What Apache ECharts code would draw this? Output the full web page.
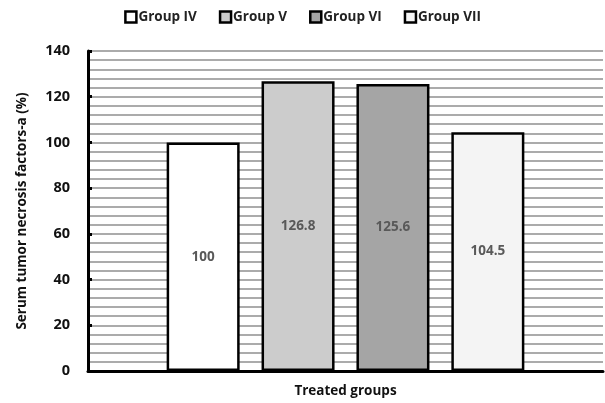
<!DOCTYPE html>
<html><head><meta charset="utf-8">
<script src="https://cdn.jsdelivr.net/npm/echarts@6/dist/echarts.min.js"></script>
<style>html,body{margin:0;padding:0;background:#fff}#c{width:605px;height:403px}</style>
</head><body><div id="c"></div>
<script>
const categories = ['Treated groups'];
const groupNames = ['Group IV', 'Group V', 'Group VI', 'Group VII'];
const groupValues = [100, 126.8, 125.6, 104.5];
const groupColors = ['#ffffff', '#cccccc', '#a5a5a5', '#f4f4f4'];
const yTicks = [0, 20, 40, 60, 80, 100, 120, 140];

const chart = echarts.init(document.getElementById('c'));
const font = '"Open Sans", "DejaVu Sans", sans-serif';
chart.setOption({
  animation: false,
  textStyle: {fontFamily: font},
  legend: {
    top: 5, left: 'center', itemWidth: 11, itemHeight: 11, itemGap: 22,
    icon: 'rect',
    textStyle: {fontWeight: 'bold', fontSize: 13.5, color: '#222', padding: [0,0,0,-3]},
    data: groupNames.map((n, i) => ({name: n, itemStyle: {color: groupColors[i], borderColor: '#000', borderWidth: 2.5}}))
  },
  grid: {left: 88, right: 2, top: 51, bottom: 29},
  xAxis: {
    type: 'category', data: categories,
    axisLine: {lineStyle: {color: '#000', width: 3}},
    axisTick: {show: false},
    axisLabel: {show: false},
    name: 'Treated groups', nameLocation: 'middle', nameGap: 13,
    nameTextStyle: {fontWeight: 'bold', fontSize: 13.5, color: '#111'}
  },
  yAxis: [{
    type: 'value', min: 0, max: 140, interval: 20,
    axisLine: {show: true, lineStyle: {color: '#000', width: 3}},
    axisTick: {show: true, inside: true, length: 4, lineStyle: {color: '#000', width: 3}},
    axisLabel: {fontWeight: 'bold', fontSize: 14.5, color: '#111', margin: 18},
    splitLine: {show: false},
    name: 'Serum tumor necrosis factors-a (%)', nameLocation: 'middle', nameGap: 59,
    nameTextStyle: {fontWeight: 'bold', fontSize: 13.5, color: '#111'}
  }, {
    type: 'value', min: 0, max: 140, interval: 4, position: 'left',
    axisLine: {show: false}, axisTick: {show: false}, axisLabel: {show: false},
    splitLine: {show: true, lineStyle: {color: '#8f8f8f', width: 1.5}}
  }],
  series: groupNames.map((n, i) => ({
    name: n, type: 'bar', data: [groupValues[i]],
    barWidth: 73, barGap: '30%', z: 3,
    itemStyle: {color: groupColors[i], borderColor: '#000', borderWidth: 2.5},
    label: {show: true, position: 'inside', fontWeight: 'bold', fontSize: 13.5, color: '#595959'}
  }))
});
</script></body></html>
